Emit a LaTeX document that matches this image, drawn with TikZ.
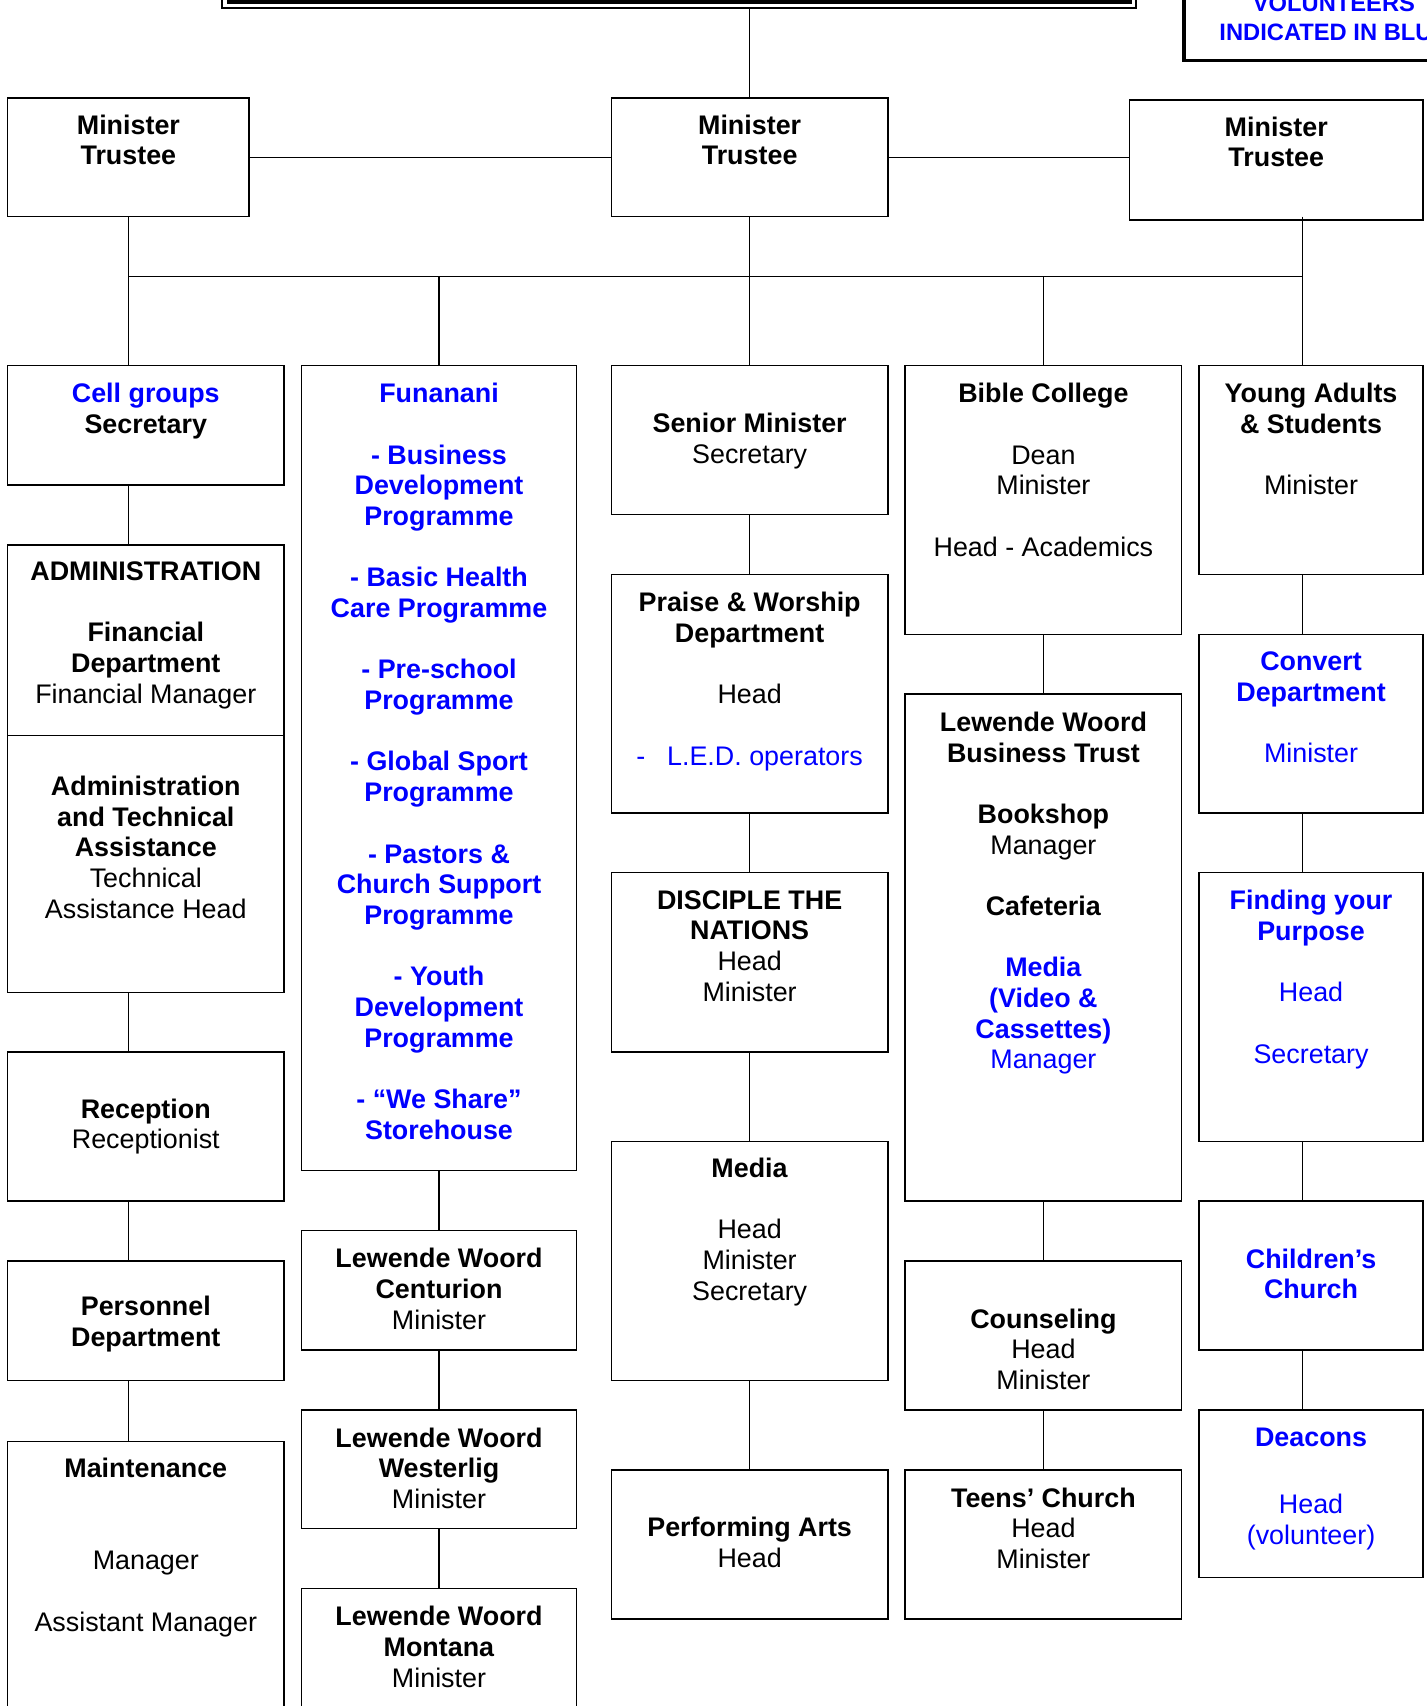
\documentclass[tikz,border=0pt]{standalone}
\usepackage{fontspec}
\setmainfont{Liberation Sans}
\usetikzlibrary{positioning}
\definecolor{volblue}{RGB}{0,0,255}
\newcommand{\orgfont}{\fontsize{12.35pt}{14.1pt}\selectfont}
\newcommand{\skipline}{\\[14.1pt]}
\tikzset{
  every picture/.style={line width=0.5pt},
  box/.style={draw, line width=0.7pt, inner sep=0pt, outer sep=0pt},
  txt/.style={align=center, font=\orgfont, inner sep=0pt},
  vol/.style={text=volblue},
  link/.style={line width=0.5pt},
}

\begin{document}
\begin{tikzpicture}[x=0.5pt, y=-0.5pt]
    \useasboundingbox (0,0) rectangle (1311,1568);

    % boxes cut off by the top of the page
    \draw[line width=0.75pt] (204,-60) rectangle (1044,7.5);
    \fill (208.5,-60) rectangle (1040.5,3.8);
    \coordinate (head) at (689,7.5);
    \draw[line width=1.7pt] (1088.5,-60) rectangle (1420,55.5);
    \node[vol, font=\fontsize{10.9pt}{13pt}\selectfont\bfseries, anchor=base] (vol1) at (1226,10.8) {VOLUNTEERS};
    \node[vol, font=\fontsize{10.9pt}{13pt}\selectfont\bfseries, anchor=base] (vol2) at (1226,36.8) {INDICATED IN BLUE};

    % trustees
    \node[box, minimum width=111pt, minimum height=54.5pt, anchor=north west] (mt1) at (7,90) {};
    \node[box, minimum width=127pt, minimum height=54.5pt, anchor=north west] (mt2) at (562,90) {};
    \node[box, minimum width=135pt, minimum height=55pt, anchor=north west] (mt3) at (1038,92) {};
    \node[txt, below=7.4pt of mt1.north] (mt1-t) {\textbf{Minister}\\\textbf{Trustee}};
    \node[txt, below=7.4pt of mt2.north] (mt2-t) {\textbf{Minister}\\\textbf{Trustee}};
    \node[txt, below=7.4pt of mt3.north] (mt3-t) {\textbf{Minister}\\\textbf{Trustee}};

    % column 1
    \node[box, minimum width=127pt, minimum height=55pt, anchor=north west] (cell) at (7,336) {};
    \node[box, minimum width=127pt, minimum height=87.5pt, below=27.5pt of cell] (admin) {};
    \node[box, minimum width=127pt, minimum height=118pt, below=0pt of admin] (tech) {};
    \node[box, minimum width=127pt, minimum height=68.5pt, below=27.5pt of tech] (recep) {};
    \node[box, minimum width=127pt, minimum height=55pt, below=27.5pt of recep] (pers) {};
    \node[box, minimum width=127pt, minimum height=137.5pt, below=28pt of pers] (maint) {};
    \node[txt, below=7.9pt of cell.north] (cell-t) {\textcolor{volblue}{\textbf{Cell groups}}\\\textbf{Secretary}};
    \node[txt, below=7.4pt of admin.north] (admin-t) {\textbf{ADMINISTRATION}\skipline\textbf{Financial}\\\textbf{Department}\\Financial Manager};
    \node[txt, below=18.4pt of tech.north] (tech-t) {\textbf{Administration}\\\textbf{and Technical}\\\textbf{Assistance}\\Technical\\Assistance Head};
    \node[txt, below=21.2pt of recep.north] (recep-t) {\textbf{Reception}\\Receptionist};
    \node[txt, below=15.9pt of pers.north] (pers-t) {\textbf{Personnel}\\\textbf{Department}};
    \node[txt, below=7.4pt of maint.north] (maint-t) {\textbf{Maintenance}\\[28.2pt]Manager\skipline Assistant Manager};

    % column 2
    \node[box, minimum width=126.5pt, minimum height=370pt, anchor=north west] (fun) at (277,336) {};
    \node[box, minimum width=126.5pt, minimum height=55pt, below=27.5pt of fun] (cent) {};
    \node[box, minimum width=126.5pt, minimum height=54.5pt, below=27.5pt of cent] (west) {};
    \node[box, minimum width=126.5pt, minimum height=70pt, below=27.5pt of west] (mont) {};
    \node[txt, vol, font=\orgfont\bfseries, below=7.9pt of fun.north] (fun-t) {Funanani\skipline
      - Business\\Development\\Programme\skipline
      - Basic Health\\Care Programme\skipline
      - Pre-school\\Programme\skipline
      - Global Sport\\Programme\skipline
      - Pastors \&\\Church Support\\Programme\skipline
      - Youth\\Development\\Programme\skipline
      - “We Share”\\Storehouse};
    \node[txt, below=7.9pt of cent.north] (cent-t) {\textbf{Lewende Woord}\\\textbf{Centurion}\\Minister};
    \node[txt, below=7.9pt of west.north] (west-t) {\textbf{Lewende Woord}\\\textbf{Westerlig}\\Minister};
    \node[txt, below=7.9pt of mont.north] (mont-t) {\textbf{Lewende Woord}\\\textbf{Montana}\\Minister};

    % column 3
    \node[box, minimum width=127pt, minimum height=68.5pt, anchor=north west] (senior) at (562,336) {};
    \node[box, minimum width=127pt, minimum height=109.5pt, below=27.5pt of senior] (praise) {};
    \node[box, minimum width=127pt, minimum height=82.5pt, below=27.5pt of praise] (disc) {};
    \node[box, minimum width=127pt, minimum height=110pt, below=41pt of disc] (media) {};
    \node[box, minimum width=127pt, minimum height=68.5pt, below=41pt of media] (perf) {};
    \node[txt, below=21.6pt of senior.north] (senior-t) {\textbf{Senior Minister}\\Secretary};
    \node[txt, below=7.9pt of praise.north] (praise-t) {\textbf{Praise \& Worship}\\\textbf{Department}\skipline Head\skipline\textcolor{volblue}{-\hspace{10pt}L.E.D. operators}};
    \node[txt, below=7.9pt of disc.north] (disc-t) {\textbf{DISCIPLE THE}\\\textbf{NATIONS}\\Head\\Minister};
    \node[txt, below=7.4pt of media.north] (media-t) {\textbf{Media}\skipline Head\\Minister\\Secretary};
    \node[txt, below=21.6pt of perf.north] (perf-t) {\textbf{Performing Arts}\\Head};

    % column 4
    \node[box, minimum width=127pt, minimum height=123.5pt, anchor=north west] (bible) at (832,336) {};
    \node[box, minimum width=127pt, minimum height=233pt, below=27.5pt of bible] (lwbt) {};
    \node[box, minimum width=127pt, minimum height=68.5pt, below=27.5pt of lwbt] (couns) {};
    \node[box, minimum width=127pt, minimum height=68.5pt, below=27.5pt of couns] (teens) {};
    \node[txt, below=7.9pt of bible.north] (bible-t) {\textbf{Bible College}\skipline Dean\\Minister\skipline Head - Academics};
    \node[txt, below=7.9pt of lwbt.north] (lwbt-t) {\textbf{Lewende Woord}\\\textbf{Business Trust}\skipline
      \textbf{Bookshop}\\Manager\skipline\textbf{Cafeteria}\skipline
      \textcolor{volblue}{\textbf{Media}}\\\textcolor{volblue}{\textbf{(Video \&}}\\
      \textcolor{volblue}{\textbf{Cassettes)}}\\\textcolor{volblue}{Manager}};
    \node[txt, below=21.6pt of couns.north] (couns-t) {\textbf{Counseling}\\Head\\Minister};
    \node[txt, below=7.9pt of teens.north] (teens-t) {\textbf{Teens’ Church}\\Head\\Minister};

    % column 5
    \node[box, minimum width=103pt, minimum height=96pt, anchor=north west] (young) at (1102,336) {};
    \node[box, minimum width=103pt, minimum height=82pt, below=27.5pt of young] (convert) {};
    \node[box, minimum width=103pt, minimum height=123.5pt, below=27.5pt of convert] (finding) {};
    \node[box, minimum width=103pt, minimum height=68.5pt, below=27.5pt of finding] (child) {};
    \node[box, minimum width=103pt, minimum height=77pt, below=27.5pt of child] (deacons) {};
    \node[txt, below=7.9pt of young.north] (young-t) {\textbf{Young Adults}\\\textbf{\& Students}\skipline Minister};
    \node[txt, vol, below=7.9pt of convert.north] (convert-t) {\textbf{Convert}\\\textbf{Department}\skipline Minister};
    \node[txt, vol, below=7.9pt of finding.north] (finding-t) {\textbf{Finding your}\\\textbf{Purpose}\skipline Head\skipline Secretary};
    \node[txt, vol, below=21.6pt of child.north] (child-t) {\textbf{Children’s}\\\textbf{Church}};
    \node[txt, vol, below=7.9pt of deacons.north] (deacons-t) {\textbf{Deacons}\\[16.9pt]Head\\(volunteer)};

    % connectors
    \coordinate (bus) at (0,254);
    \coordinate (yline) at (1197,199);
    \draw[link] (head) -- (mt2.north);
    \draw[link] (mt1) -- (mt2);
    \draw[link] (mt2.east) -- (mt2.east -| mt3.west);
    \draw[link] (mt1.south |- bus) -- (yline |- bus);
    \draw[link] (mt1.south) -- (mt1.south |- cell.north);
    \draw[link] (mt2) -- (senior);
    \draw[link] (yline) -- (yline |- young.north);
    \draw[link] (fun.north |- bus) -- (fun.north);
    \draw[link] (bible.north |- bus) -- (bible.north);
    \foreach \a/\b in {cell/admin, tech/recep, recep/pers, pers/maint}
      \draw[link] (\a.south -| mt1) -- (\b.north -| mt1);
    \foreach \a/\b in {fun/cent, cent/west, west/mont, senior/praise, praise/disc, disc/media, media/perf, bible/lwbt, lwbt/couns, couns/teens}
      \draw[link] (\a) -- (\b);
    \foreach \a/\b in {young/convert, convert/finding, finding/child, child/deacons}
      \draw[link] (\a.south -| yline) -- (\b.north -| yline);
\end{tikzpicture}
\end{document}
